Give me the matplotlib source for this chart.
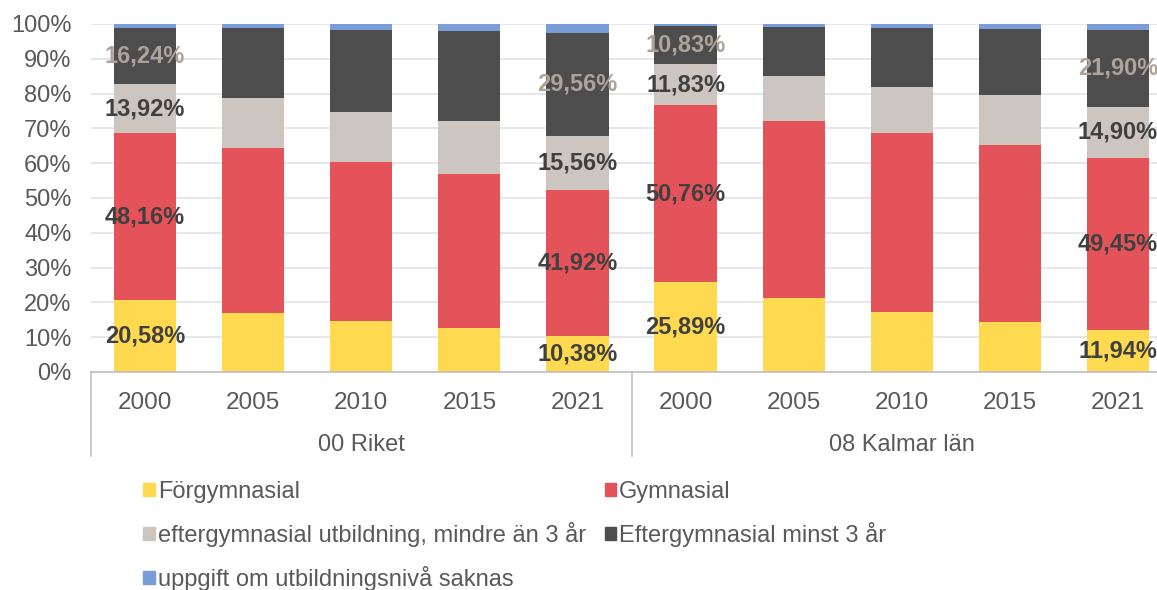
import numpy as np
import matplotlib.pyplot as plt
from matplotlib.patches import Patch
from matplotlib.lines import Line2D

plt.rcParams['font.family'] = ['Liberation Sans', 'DejaVu Sans']

# Data (andel i procent)
groups = ['00 Riket', '08 Kalmar län']
years = ['2000', '2005', '2010', '2015', '2021']
series_names = ['Förgymnasial', 'Gymnasial',
                'eftergymnasial utbildning, mindre än 3 år',
                'Eftergymnasial minst 3 år',
                'uppgift om utbildningsnivå saknas']
forgym = [20.58, 17.0, 14.7, 12.6, 10.38, 25.89, 21.3, 17.2, 14.4, 11.94]
gym = [48.16, 47.4, 45.6, 44.3, 41.92, 50.76, 50.8, 51.5, 50.8, 49.45]
efter_kort = [13.92, 14.3, 14.4, 15.2, 15.56, 11.83, 12.9, 13.1, 14.4, 14.90]
efter_lang = [16.24, 20.2, 23.6, 25.9, 29.56, 10.83, 14.2, 17.1, 19.0, 21.90]
saknas = [1.10, 1.1, 1.7, 2.0, 2.58, 0.69, 0.8, 1.1, 1.4, 1.81]

# index på staplar som har etiketter
labelled = [0, 4, 5, 9]

colors = ['#FFD94F', '#E5535A', '#CDC6C0', '#4D4D4D', '#7A9CD8']
label_colors = ['#404040', '#404040', '#404040', '#ADA398', None]

fig = plt.figure(figsize=(11.57, 5.90), dpi=100)
ax = fig.add_axes([91 / 1157, 1 - 372 / 590, (1172 - 91) / 1157, 348 / 590])

x = np.arange(len(forgym))
data = [forgym, gym, efter_kort, efter_lang, saknas]
bottom = np.zeros(len(x))
for vals, col, lc in zip(data, colors, label_colors):
    vals = np.array(vals)
    ax.bar(x, vals, 0.575, bottom=bottom, color=col, zorder=2)
    if lc is not None:
        for i in labelled:
            ax.text(x[i], bottom[i] + vals[i] / 2, f'{vals[i]:.2f}%'.replace('.', ','),
                    ha='center', va='center', fontsize=17, fontweight='bold',
                    color=lc, zorder=3)
    bottom += vals

ax.set_xlim(-0.5, len(x) - 0.5)
ax.set_ylim(0, 100)
ax.set_yticks(np.arange(0, 101, 10))
ax.set_yticklabels([f'{v}%' for v in range(0, 101, 10)])
ax.yaxis.grid(True, color='#E3E3E3', linewidth=1.2, zorder=0)
ax.set_axisbelow(True)
ax.tick_params(axis='y', length=0, labelsize=17, labelcolor='#595959', pad=14)
ax.set_xticks([])
for s in ['top', 'right', 'left']:
    ax.spines[s].set_visible(False)
ax.spines['bottom'].set_color('#BFBFBF')
ax.spines['bottom'].set_linewidth(1.2)

# kategori-etiketter i två nivåer
trans = ax.get_xaxis_transform()
for i in x:
    ax.text(i, -0.09, years[i % 5], transform=trans, ha='center', va='center',
            fontsize=17.5, color='#595959')
for g, name in enumerate(groups):
    ax.text(g * 5 + 2, -0.21, name, transform=trans, ha='center', va='center',
            fontsize=17, color='#595959')
for xv in [-0.5, 4.5]:
    ax.add_line(Line2D([xv, xv], [0, -0.24], transform=trans, color='#BFBFBF',
                       linewidth=1.2, clip_on=False))

# legend, radvis ordning
order = [0, 2, 4, 1, 3]
handles = [Patch(color=colors[i]) for i in order]
labels = [series_names[i] for i in order]
fig.legend(handles, labels, ncol=2, loc='upper left', bbox_to_anchor=(143 / 1157, 1 - 481 / 590),
           frameon=False, fontsize=17, labelcolor='#595959', handlelength=0.5,
           handleheight=0.5, handletextpad=0.12, columnspacing=0.8, labelspacing=0.8,
           borderaxespad=0, borderpad=0)

fig.savefig('out.png', dpi=100)
